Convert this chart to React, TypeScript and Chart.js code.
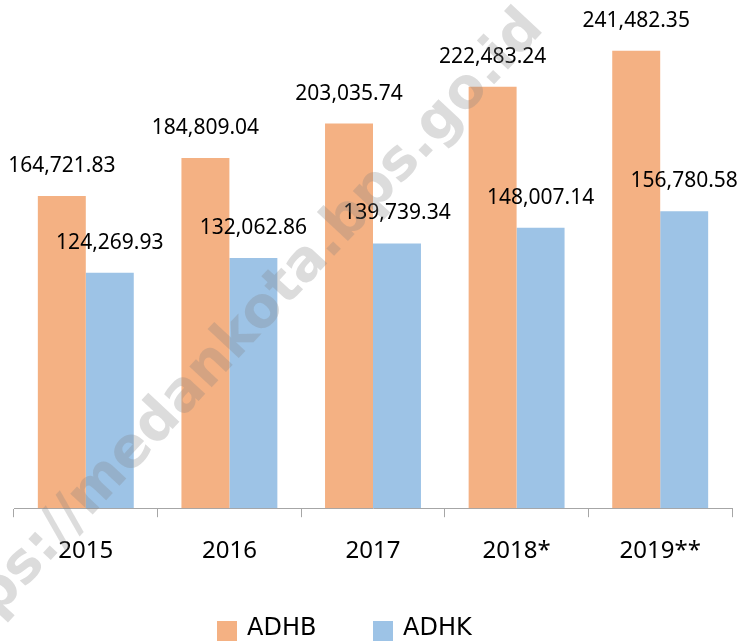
import React, { useEffect, useRef } from "react";
import { Chart, registerables } from "chart.js";

Chart.register(...registerables);

const categories = ["2015", "2016", "2017", "2018*", "2019**"];
const adhbValues = [164721.83, 184809.04, 203035.74, 222483.24, 241482.35];
const adhkValues = [124269.93, 132062.86, 139739.34, 148007.14, 156780.58];
const seriesNames = ["ADHB", "ADHK"];
const seriesColors = ["#F4B183", "#9DC3E6"];
const watermarkText = "https://medankota.bps.go.id";

const fmt = (v: number) =>
  v.toLocaleString("en-US", { minimumFractionDigits: 2, maximumFractionDigits: 2 });

const labelPlugin = {
  id: "valueLabels",
  afterDatasetsDraw(chart: any) {
    const ctx = chart.ctx;
    ctx.save();
    ctx.font = '21px "Noto Sans"';
    ctx.fillStyle = "#000";
    ctx.textAlign = "center";
    ctx.textBaseline = "alphabetic";
    chart.data.datasets.forEach((ds: any, di: number) => {
      const meta = chart.getDatasetMeta(di);
      meta.data.forEach((el: any, i: number) => {
        ctx.fillText(fmt(ds.data[i]), el.x, el.y - 24);
      });
    });
    ctx.restore();
  },
};

export default function App() {
  const ref = useRef<HTMLCanvasElement | null>(null);

  useEffect(() => {
    if (!ref.current) return;
    const chart = new Chart(ref.current, {
      type: "bar",
      data: {
        labels: categories,
        datasets: [
          { label: seriesNames[0], data: adhbValues, backgroundColor: seriesColors[0], borderWidth: 0 },
          { label: seriesNames[1], data: adhkValues, backgroundColor: seriesColors[1], borderWidth: 0 },
        ],
      },
      options: {
        responsive: false,
        animation: false,
        devicePixelRatio: 1,
        layout: { padding: { left: 14, right: 11, top: 15.6, bottom: 55 } },
        datasets: { bar: { categoryPercentage: 0.668, barPercentage: 1 } },
        plugins: { legend: { display: false }, tooltip: { enabled: false } },
        scales: {
          x: {
            grid: {
              display: true,
              drawOnChartArea: false,
              drawTicks: true,
              tickLength: 9,
              color: "#A6A6A6",
              offset: true,
            },
            border: { display: true, color: "#A6A6A6", width: 1 },
            ticks: {
              color: "#000",
              padding: 20,
              font: { family: '"Noto Sans"', size: 24 },
              maxRotation: 0,
            },
          },
          y: { display: false, min: 0, max: 260000 },
        },
      },
      plugins: [labelPlugin],
    });
    return () => chart.destroy();
  }, []);

  return (
    <div
      style={{
        position: "fixed",
        left: 0,
        top: 0,
        width: 743,
        height: 641,
        background: "#fff",
        overflow: "hidden",
      }}
    >
      <canvas ref={ref} width={743} height={641} style={{ position: "absolute", left: 0, top: 0 }} />
      <div style={{ position: "absolute", left: 217, top: 621, width: 20, height: 20, background: seriesColors[0] }} />
      <div
        style={{
          position: "absolute",
          left: 247,
          top: 615,
          font: '24px "DejaVu Sans"',
          lineHeight: "24px",
          color: "#000",
          whiteSpace: "nowrap",
        }}
      >
        {seriesNames[0]}
      </div>
      <div style={{ position: "absolute", left: 373, top: 621, width: 20, height: 20, background: seriesColors[1] }} />
      <div
        style={{
          position: "absolute",
          left: 403,
          top: 615,
          font: '24px "DejaVu Sans"',
          lineHeight: "24px",
          color: "#000",
          whiteSpace: "nowrap",
        }}
      >
        {seriesNames[1]}
      </div>
      <div
        style={{
          position: "absolute",
          left: 225,
          top: 345,
          transform: "translate(-50%, -50%) rotate(-47deg)",
          font: 'bold 56px "DejaVu Sans"',
          lineHeight: 1,
          color: "rgba(128,128,128,0.28)",
          whiteSpace: "nowrap",
          pointerEvents: "none",
        }}
      >
        {watermarkText}
      </div>
    </div>
  );
}
